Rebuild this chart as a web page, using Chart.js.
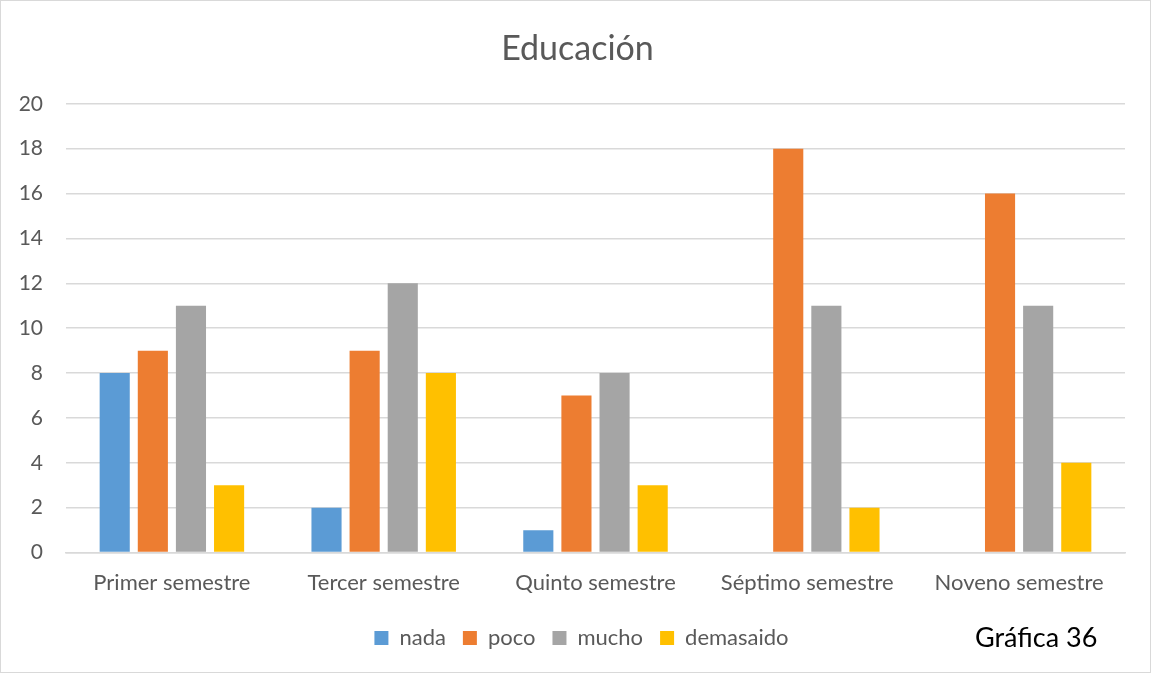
<!DOCTYPE html>
<html>
<head>
<meta charset="utf-8">
<script src="https://cdn.jsdelivr.net/npm/chart.js@4"></script>
<style>
    html, body { margin: 0; padding: 0; background: #fff; }
    #wrap { position: relative; width: 1154px; height: 675px; }
    #frame {
        position: absolute; left: 0; top: 0; width: 1151px; height: 673px;
        border: 1px solid #d9d9d9; box-sizing: border-box; pointer-events: none;
    }
    #note {
        position: absolute; left: 975px; top: 620px;
        font-family: Lato, sans-serif; font-size: 27px; color: #000;
    }
</style>
</head>
<body>
<div id="wrap">
    <canvas id="chart" width="1154" height="675"></canvas>
    <div id="frame"></div>
    <div id="note">Gráfica 36</div>
</div>
<script>
// Semesters on the x axis
const semesters = ['Primer semestre', 'Tercer semestre', 'Quinto semestre', 'Séptimo semestre', 'Noveno semestre'];

// Answers per level
const nada = [8, 2, 1, 0, 0];
const poco = [9, 9, 7, 18, 16];
const mucho = [11, 12, 8, 11, 11];
const demasaido = [3, 8, 3, 2, 4];

const TEXT_COLOR = '#595959';
const GRID_COLOR = '#d9d9d9';
const FONT = 'Lato, sans-serif';

function makeSet(label, data, color) {
    return {
        label: label,
        data: data,
        backgroundColor: color,
        borderWidth: 0,
        barPercentage: 0.79,
        categoryPercentage: 0.72
    };
}

// nudge title and legend so they sit where the original has them
const nudgeBoxes = {
    id: 'nudgeBoxes',
    afterLayout(chart) {
        const t = chart.titleBlock;
        t.left += 10;
        t.right += 10;
        const l = chart.legend;
        l.left += 14;
        l.right += 14;
        l.top -= 3;
        l.bottom -= 3;
    }
};

new Chart(document.getElementById('chart'), {
    type: 'bar',
    data: {
        labels: semesters,
        datasets: [
            makeSet('nada', nada, '#5B9BD5'),
            makeSet('poco', poco, '#ED7D31'),
            makeSet('mucho', mucho, '#A5A5A5'),
            makeSet('demasaido', demasaido, '#FFC000')
        ]
    },
    options: {
        responsive: false,
        animation: false,
        layout: {
            padding: { left: 10, right: 29, top: 0, bottom: 13 }
        },
        scales: {
            x: {
                grid: { display: false, drawTicks: false },
                border: { display: true, color: GRID_COLOR, width: 1.5 },
                ticks: {
                    color: TEXT_COLOR,
                    padding: 17,
                    font: { family: FONT, size: 22 }
                }
            },
            y: {
                min: 0,
                max: 20,
                grid: { color: GRID_COLOR, lineWidth: 1.5, drawTicks: false },
                border: { display: false },
                ticks: {
                    stepSize: 2,
                    color: TEXT_COLOR,
                    padding: 23,
                    font: { family: FONT, size: 21 }
                },
                afterFit: function(scale) {
                    scale.width = 56;
                }
            }
        },
        plugins: {
            title: {
                display: true,
                text: 'Educación',
                color: TEXT_COLOR,
                font: { family: FONT, size: 34, weight: 'normal' },
                padding: { top: 29, bottom: 34 }
            },
            legend: {
                display: true,
                position: 'bottom',
                labels: {
                    color: TEXT_COLOR,
                    boxWidth: 14,
                    boxHeight: 14,
                    padding: 17,
                    font: { family: FONT, size: 22 }
                }
            },
            tooltip: { enabled: false }
        }
    },
    plugins: [nudgeBoxes]
});
</script>
</body>
</html>
